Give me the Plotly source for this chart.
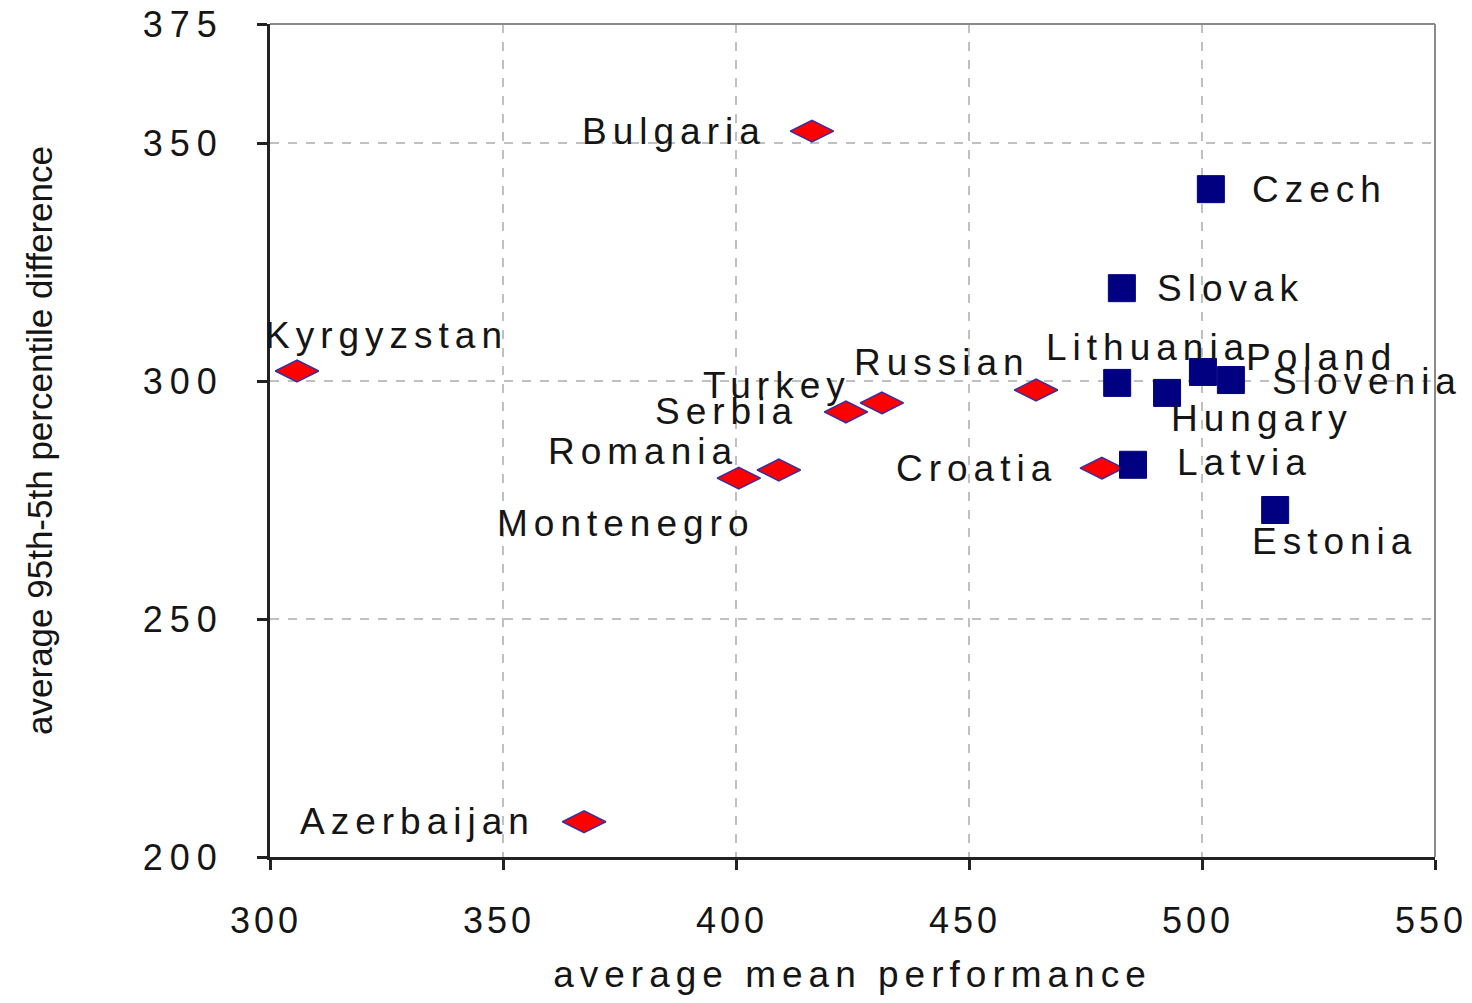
import plotly.graph_objects as go

# ---------------- data ----------------
diamond_countries = ["Bulgaria", "Kyrgyzstan", "Azerbaijan", "Montenegro", "Romania",
                     "Serbia", "Turkey", "Russian", "Croatia"]
diamond_x = [416.3, 305.8, 367.4, 400.6, 409.2, 423.6, 431.3, 464.4, 478.5]
diamond_y = [352.5, 302.1, 207.4, 279.6, 281.3, 293.5, 295.4, 298.1, 281.7]

square_countries = ["Latvia", "Lithuania", "Hungary", "Poland", "Slovenia",
                    "Czech", "Slovak", "Estonia"]
square_x = [485.2, 481.8, 492.5, 500.2, 506.2, 501.9, 482.8, 515.7]
square_y = [282.4, 299.6, 297.5, 301.9, 300.2, 340.3, 319.5, 272.9]

x_ticks = [300, 350, 400, 450, 500, 550]
y_ticks = [200, 250, 300, 350, 375]

x_title = "average mean performance"
y_title = "average 95th-5th percentile difference"

# label offsets (pixels) relative to each marker: styling only
label_offsets = {
    "Bulgaria": (-141, 0), "Kyrgyzstan": (86, 36), "Azerbaijan": (-170, 0),
    "Montenegro": (-116, -45), "Romania": (-139, 19), "Serbia": (-122, 0),
    "Turkey": (-108, 17), "Russian": (-97, 28), "Croatia": (-128, 0),
    "Latvia": (108, 2), "Lithuania": (28, 35), "Hungary": (92, -26),
    "Poland": (116, 14), "Slovenia": (133, -1), "Czech": (106, 0),
    "Slovak": (106, 0), "Estonia": (56, -31),
}

FONT = "Liberation Sans, Arial, sans-serif"
TXT = "#151515"


def wide(t, ls=6):
    return f'<span style="letter-spacing:{ls}px">{t}</span>'


fig = go.Figure()
fig.add_trace(go.Scatter(
    x=diamond_x, y=diamond_y, mode="markers", name="diamonds",
    marker=dict(symbol="diamond-wide", size=31, color="#ff0000",
                line=dict(color="#3a2ea0", width=1.5)),
    hovertext=diamond_countries, showlegend=False,
))
fig.add_trace(go.Scatter(
    x=square_x, y=square_y, mode="markers", name="squares",
    marker=dict(symbol="square", size=27, color="#000080",
                line=dict(color="#000080", width=1)),
    hovertext=square_countries, showlegend=False,
))

annotations = []
for names, xs, ys in ((diamond_countries, diamond_x, diamond_y),
                      (square_countries, square_x, square_y)):
    for n, x, y in zip(names, xs, ys):
        dx, dy = label_offsets[n]
        annotations.append(dict(
            x=x, y=y, xref="x", yref="y", text=wide(n, 6), showarrow=False,
            xanchor="center", yanchor="middle", xshift=dx + 3, yshift=dy,
            font=dict(family=FONT, size=37, color=TXT),
        ))

grid = dict(showgrid=True, gridcolor="#c0c0c0", gridwidth=2, griddash="dash")

fig.update_layout(
    width=1464, height=987,
    margin=dict(l=262, r=37, t=16, b=138, autoexpand=False),
    paper_bgcolor="white", plot_bgcolor="white",
    annotations=annotations,
    xaxis=dict(
        range=[300, 550], tickvals=x_ticks, ticktext=[wide(str(v), 4) for v in x_ticks],
        ticks="outside", ticklen=10, tickwidth=3, tickcolor="#222",
        showline=True, linecolor="#222", linewidth=3, zeroline=False,
        tickfont=dict(family=FONT, size=36, color=TXT),
        ticklabelstandoff=20, ticklabelshift=-4, ticklabeloverflow="allow",
        title=dict(text=wide(x_title, 6), standoff=30,
                   font=dict(family=FONT, size=37, color=TXT)),
        **grid,
    ),
    yaxis=dict(
        range=[200, 375], tickvals=y_ticks, ticktext=[wide(str(v), 7) for v in y_ticks],
        ticks="outside", ticklen=10, tickwidth=3, tickcolor="#222",
        showline=True, linecolor="#222", linewidth=3, zeroline=False,
        tickfont=dict(family=FONT, size=36, color=TXT),
        ticklabelstandoff=26, ticklabeloverflow="allow",
        title=dict(text=y_title, standoff=80,
                   font=dict(family=FONT, size=35, color=TXT)),
        **grid,
    ),
    shapes=[
        dict(type="line", xref="paper", yref="paper", x0=0, x1=1, y0=1, y1=1,
             line=dict(color="#8a8a8a", width=2)),
        dict(type="line", xref="paper", yref="paper", x0=1, x1=1, y0=0, y1=1,
             line=dict(color="#8a8a8a", width=2)),
    ],
)

fig.write_html("out.html")
